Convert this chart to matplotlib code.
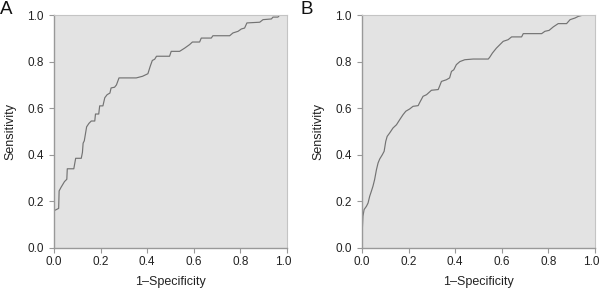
import matplotlib.pyplot as plt
import matplotlib.transforms as mtransforms

plt.rcParams['font.family'] = ['Liberation Sans', 'DejaVu Sans']

# ROC curve A (1-specificity, sensitivity)
fpr_a = [0.0, 0.0, 0.01, 0.02, 0.022, 0.03, 0.045, 0.055, 0.057, 0.085, 0.093,
         0.117, 0.122, 0.125, 0.13, 0.14, 0.15, 0.16, 0.175, 0.178, 0.192, 0.196,
         0.21, 0.218, 0.228, 0.24, 0.245, 0.26, 0.268, 0.279, 0.353, 0.38, 0.403,
         0.413, 0.422, 0.432, 0.44, 0.496, 0.503, 0.539, 0.561, 0.582, 0.594,
         0.625, 0.632, 0.675, 0.682, 0.754, 0.768, 0.79, 0.804, 0.818, 0.828,
         0.883, 0.897, 0.933, 0.94, 0.961, 0.969, 1.0]
tpr_a = [0.13, 0.16, 0.165, 0.17, 0.245, 0.26, 0.285, 0.295, 0.34, 0.34, 0.385,
         0.385, 0.41, 0.45, 0.46, 0.52, 0.535, 0.545, 0.545, 0.575, 0.575, 0.61,
         0.61, 0.645, 0.658, 0.665, 0.687, 0.69, 0.70, 0.73, 0.73, 0.737, 0.748,
         0.78, 0.805, 0.81, 0.823, 0.823, 0.844, 0.844, 0.858, 0.873, 0.884,
         0.884, 0.901, 0.901, 0.911, 0.911, 0.923, 0.93, 0.94, 0.944, 0.966,
         0.969, 0.98, 0.983, 0.991, 0.991, 1.0, 1.0]

# ROC curve B
fpr_b = [0.0, 0.004, 0.009, 0.019, 0.026, 0.033, 0.04, 0.047, 0.054, 0.062,
         0.069, 0.076, 0.087, 0.095, 0.102, 0.108, 0.119, 0.133, 0.148, 0.162,
         0.176, 0.188, 0.205, 0.219, 0.241, 0.248, 0.262, 0.277, 0.298, 0.327,
         0.334, 0.341, 0.362, 0.376, 0.384, 0.394, 0.405, 0.42, 0.441, 0.477,
         0.542, 0.549, 0.56, 0.577, 0.606, 0.627, 0.642, 0.685, 0.692, 0.771,
         0.785, 0.803, 0.821, 0.842, 0.878, 0.893, 0.914, 0.928, 0.95, 1.0]
tpr_b = [0.05, 0.136, 0.165, 0.179, 0.193, 0.222, 0.243, 0.265, 0.293, 0.336,
         0.365, 0.382, 0.40, 0.415, 0.458, 0.479, 0.494, 0.515, 0.529, 0.551,
         0.572, 0.587, 0.597, 0.608, 0.611, 0.625, 0.651, 0.658, 0.677, 0.68,
         0.697, 0.715, 0.722, 0.73, 0.758, 0.765, 0.787, 0.80, 0.808, 0.811,
         0.811, 0.82, 0.837, 0.858, 0.887, 0.894, 0.906, 0.906, 0.92, 0.92,
         0.93, 0.934, 0.949, 0.963, 0.963, 0.98, 0.987, 0.994, 1.0, 1.0]

ticks = [0.0, 0.2, 0.4, 0.6, 0.8, 1.0]

fig = plt.figure(figsize=(6, 2.89), dpi=100)

# (panel letter, x data, y data, axes left edge in px, letter x in px)
panels = [('A', fpr_a, tpr_a, 54, 0), ('B', fpr_b, tpr_b, 362, 301)]
for letter, fpr, tpr, left_px, letter_px in panels:
    ax = fig.add_axes([left_px / 600, 41 / 289, 233 / 600, 233 / 289])
    ax.set_facecolor('#e3e3e3')
    ax.plot(fpr, tpr, color='#737373', lw=0.85)
    ax.set_xlim(0, 1)
    ax.set_ylim(0, 1)
    ax.set_xticks(ticks)
    ax.set_yticks(ticks)
    ax.set_xticklabels(['%.1f' % t for t in ticks])
    ax.set_yticklabels(['%.1f' % t for t in ticks])
    ax.tick_params(axis='both', direction='out', length=3.5, width=0.8,
                   color='#999999', labelsize=8.5, labelcolor='#222222', pad=2)
    ax.tick_params(axis='y', pad=4)
    # last x label sits a little left of its tick, as in the original
    last = ax.get_xticklabels()[-1]
    last.set_transform(last.get_transform() +
                       mtransforms.ScaledTranslation(-3.5 / 100, 0, fig.dpi_scale_trans))
    for side in ['left', 'bottom']:
        ax.spines[side].set_color('#999999')
        ax.spines[side].set_linewidth(1.0)
    for side in ['top', 'right']:
        ax.spines[side].set_color('#c4c4c4')
        ax.spines[side].set_linewidth(0.8)
    ax.set_xlabel('1\u2013Specificity', fontsize=9, color='#222222', labelpad=6)
    ax.set_ylabel('Sensitivity', fontsize=9, color='#222222', labelpad=8)
    fig.text(letter_px / 600, 0.998, letter, fontsize=13.5,
             ha='left', va='top', color='#111111')

fig.savefig('out.png', dpi=100)
